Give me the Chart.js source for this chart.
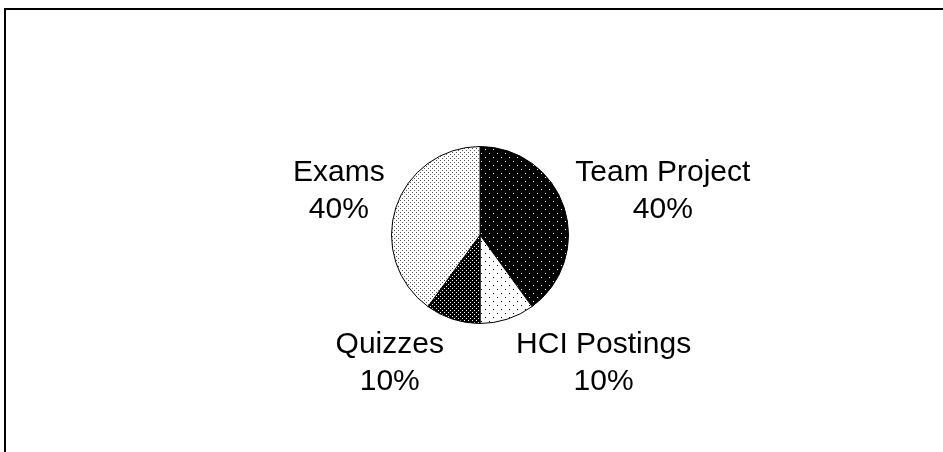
<!DOCTYPE html>
<html>
<head>
<meta charset="utf-8">
<script src="https://cdn.jsdelivr.net/npm/chart.js@4.4.0/dist/chart.umd.min.js"></script>
<style>
    html, body { margin: 0; padding: 0; background: #fff; overflow: hidden; }
    canvas { display: block; }
</style>
</head>
<body>
<canvas id="pieCanvas" width="943" height="452"></canvas>
<script>
// chart data
const categories = ['Team Project', 'HCI Postings', 'Quizzes', 'Exams'];
const weights = [40, 10, 10, 40];

// little tiles to imitate the old dot fills
function dotPattern(size, bg, fg, dots) {
    const c = document.createElement('canvas');
    c.width = size;
    c.height = size;
    const g = c.getContext('2d');
    g.fillStyle = bg;
    g.fillRect(0, 0, size, size);
    g.fillStyle = fg;
    dots.forEach(function (d) { g.fillRect(d[0], d[1], 1, 1); });
    return g.createPattern(c, 'repeat');
}

const ctx = document.getElementById('pieCanvas').getContext('2d');
const fills = [
    dotPattern(8, '#000', '#fff', [[1, 1], [5, 5]]),
    dotPattern(8, '#fff', '#000', [[1, 1], [5, 5]]),
    dotPattern(4, '#000', '#fff', [[0, 0], [2, 2]]),
    dotPattern(4, '#fff', '#555', [[0, 0], [2, 2]])
];

// frame of the old chart object, only top and left edges show
const frameLines = {
    id: 'frameLines',
    beforeDraw(chart) {
        const g = chart.ctx;
        g.save();
        g.fillStyle = '#000';
        g.fillRect(4, 8, chart.width - 4, 2);
        g.fillRect(4, 8, 2, chart.height - 8);
        g.restore();
    }
};

// labels outside each slice, like the spreadsheet did
const outsideLabels = {
    id: 'outsideLabels',
    afterDatasetsDraw(chart) {
        const g = chart.ctx;
        const meta = chart.getDatasetMeta(0);
        const data = chart.data.datasets[0].data;
        const total = data.reduce(function (a, b) { return a + b; }, 0);
        const lineH = 37;
        g.save();
        g.font = '30px "Liberation Sans", Arial, sans-serif';
        g.fillStyle = '#000';
        g.textAlign = 'center';
        g.textBaseline = 'middle';
        meta.data.forEach(function (arc, i) {
            const mid = (arc.startAngle + arc.endAngle) / 2;
            const r = arc.outerRadius * 1.11;
            const dx = Math.cos(mid), dy = Math.sin(mid);
            const side = dx >= 0 ? 1 : -1;
            const ax = arc.x + dx * r + side * 6 * Math.abs(dy);
            const ay = arc.y + dy * r;
            const lines = [chart.data.labels[i], Math.round(data[i] / total * 100) + '%'];
            const w = Math.max.apply(null, lines.map(function (t) { return g.measureText(t).width; }));
            const h = lineH * lines.length;
            const cx = ax + side * w / 2;
            const cy = ay + dy * h / 2 - (dy < 0 ? 2 : 0);
            lines.forEach(function (t, k) {
                g.fillText(t, cx, cy - h / 2 + lineH * (k + 0.5));
            });
        });
        g.restore();
    }
};

new Chart(ctx, {
    type: 'pie',
    data: {
        labels: categories,
        datasets: [{
            data: weights,
            backgroundColor: fills,
            borderColor: '#000',
            borderWidth: 1,
            hoverOffset: 0
        }]
    },
    options: {
        responsive: false,
        animation: false,
        layout: { padding: { left: 17, right: 0, top: 146, bottom: 128 } },
        plugins: {
            legend: { display: false },
            tooltip: { enabled: false }
        }
    },
    plugins: [frameLines, outsideLabels]
});
</script>
</body>
</html>
